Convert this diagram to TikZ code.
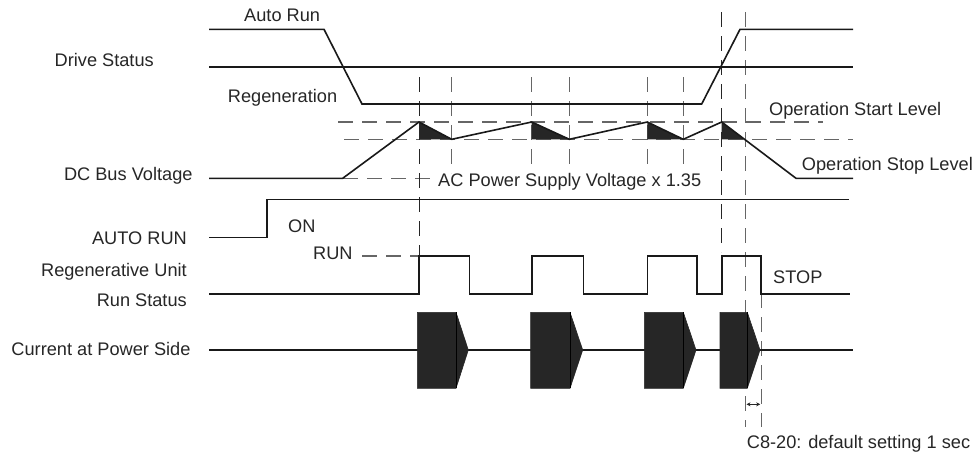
\documentclass[tikz,border=0pt]{standalone}
\usepackage{fontspec}
\setmainfont{Liberation Sans}
\usetikzlibrary{arrows.meta}
\begin{document}
\begin{tikzpicture}[x=1pt,y=-1pt,
  sig/.style={line width=1.6pt,draw=black!90,line join=miter},
  gdash/.style={line width=1.2pt,draw=black!60,dash pattern=on 15pt off 9pt},
  kdash/.style={line width=1pt,draw=black!85,dash pattern=on 15pt off 9pt},
  lbl/.style={inner sep=0pt,font=\fontsize{18.2}{22}\selectfont,text=black!85},
  blk/.style={fill=black!85,draw=black!85,line width=0.6pt}
]
\useasboundingbox (0,0) rectangle (977,453);
% labels left
\node[lbl,anchor=base east] (ds) at (154,66) {Drive Status};
\node[lbl,anchor=base east] (dc) at (192.7,180) {DC Bus Voltage};
\node[lbl,anchor=base east] (ar) at (187,244.3) {AUTO RUN};
\node[lbl,anchor=base east] (ru) at (187,276.7) {Regenerative Unit};
\node[lbl,anchor=base east] (rs) at (187,306) {Run Status};
\node[lbl,anchor=base east] (cp) at (190.7,355) {Current at Power Side};
% other labels
\node[lbl,anchor=base west] (autorun) at (244,21.7) {Auto Run};
\node[lbl,anchor=base west] (regen) at (227.7,102.7) {Regeneration};
\node[lbl,anchor=base west] (osl) at (769,115) {Operation Start Level};
\node[lbl,anchor=base west] (opl) at (801.7,170) {Operation Stop Level};
\node[lbl,anchor=base west] (ac) at (438,186.7) {AC Power Supply Voltage x 1.35};
\node[lbl,anchor=base west] (on) at (288,232.7) {ON};
\node[lbl,anchor=base west] (run) at (313,259.3) {RUN};
\node[lbl,anchor=base west] (stop) at (773,283.3) {STOP};
\node[lbl,anchor=base west] (c820) at (746.7,448) {C8-20: default setting 1 sec};
% dashed reference lines
\draw[gdash] (338,122) -- (823,122);
\draw[gdash] (344,139.3) -- (853,139.3);
\draw[gdash] (343,178.3) -- (433,178.3);
\draw[gdash] (362,256) -- (419,256);
\foreach \xx in {451.7,531.7,569.3,647.3,683.3}{
  \draw[gdash] (\xx,77) -- (\xx,173);
}
\draw[kdash] (419,77) -- (419,256);
\draw[kdash] (721.7,12) -- (721.7,252);
\draw[gdash] (745.7,12) -- (745.7,427);
\draw[gdash,line width=0.9pt] (761,293) -- (761,427);
\draw[{Stealth[length=4pt,width=4pt]}-{Stealth[length=4pt,width=4pt]},line width=0.9pt,black!85] (746.5,404.3) -- (760.2,404.3);
% shaded triangles
\fill[black!85] (419,122) -- (419,139.3) -- (451.7,139.3) -- cycle;
\fill[black!85] (531.7,122) -- (531.7,139.3) -- (569.3,139.3) -- cycle;
\fill[black!85] (647.3,122) -- (647.3,139.3) -- (683.3,139.3) -- cycle;
\fill[black!85] (721.7,122) -- (721.7,139.3) -- (744.5,139.3) -- cycle;
% drive status
\draw[sig] (209,29.3) -- (324,29.3) -- (362,104) -- (701.7,104) -- (740,29.3) -- (853,29.3);
\draw[sig] (209,66.7) -- (853,66.7);
% DC bus voltage
\draw[sig] (209,178.3) -- (342.7,178.3) -- (419,122) -- (451.7,139.3) -- (531.7,122) -- (569.3,139.3) -- (647.3,122) -- (683.3,139.3) -- (721.7,122) -- (796,178.3) -- (853,178.3);
% AUTO RUN
\draw[sig] (209,237.3) -- (267,237.3) -- (267,199.3) -- (849,199.3);
% Run status
\draw[sig] (209,294) -- (419,294) -- (419,256) -- (469.3,256) -- (469.3,294) -- (531.7,294) -- (531.7,256) -- (583.3,256) -- (583.3,294) -- (647.3,294) -- (647.3,256) -- (696.7,256) -- (696.7,294) -- (721.7,294) -- (721.7,256) -- (761,256) -- (761,294) -- (850,294);
% Current at power side
\draw[sig] (209,350) -- (853,350);
\draw[blk] (417.3,312.3) -- (456,312.3) -- (468.3,350) -- (456,388.3) -- (417.3,388.3) -- cycle;
\draw[blk] (530.7,312.3) -- (570,312.3) -- (582.7,350) -- (570,388.3) -- (530.7,388.3) -- cycle;
\draw[blk] (644.3,312.3) -- (683.3,312.3) -- (696,350) -- (683.3,388.3) -- (644.3,388.3) -- cycle;
\draw[blk] (720,312.3) -- (747.3,312.3) -- (760,350) -- (747.3,388.3) -- (720,388.3) -- cycle;
\foreach \xx in {456,570,683.3,747.3}{
  \draw[black,line width=0.8pt] (\xx,312.3) -- (\xx,388.3);
}
\end{tikzpicture}
\end{document}
